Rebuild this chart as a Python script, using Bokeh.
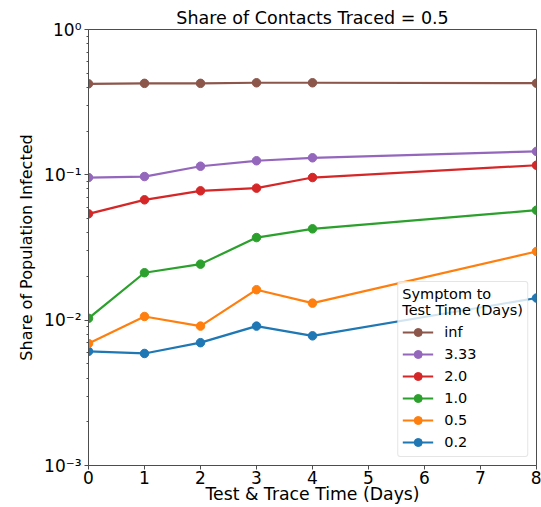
from bokeh.plotting import figure
from bokeh.models import Legend, LegendItem, FixedTicker, CustomJSTickFormatter, Range1d
from bokeh.embed import file_html
from bokeh.resources import INLINE

# ---- data ----
test_trace_days = [0, 1, 2, 3, 4, 8]
series_names = ["0.2", "0.5", "1.0", "2.0", "3.33", "inf"]
vals_0_2 = [0.0061, 0.0059, 0.0070, 0.0091, 0.0078, 0.0142]
vals_0_5 = [0.0069, 0.0106, 0.0091, 0.0162, 0.0131, 0.0297]
vals_1_0 = [0.0103, 0.0212, 0.0243, 0.0370, 0.0425, 0.0571]
vals_2_0 = [0.0539, 0.0673, 0.0776, 0.0810, 0.0958, 0.1164]
vals_3_33 = [0.0958, 0.0973, 0.1146, 0.1250, 0.1310, 0.1450]
vals_inf = [0.423, 0.426, 0.426, 0.430, 0.430, 0.427]
series_values = [vals_0_2, vals_0_5, vals_1_0, vals_2_0, vals_3_33, vals_inf]
colors = ["#1f77b4", "#ff7f0e", "#2ca02c", "#d62728", "#9467bd", "#8c564b"]
x_ticks = [0, 1, 2, 3, 4, 5, 6, 7, 8]
y_ticks = [0.001, 0.01, 0.1, 1.0]
y_minor = [k * d for d in (0.001, 0.01, 0.1) for k in range(2, 10)]

FONT = "DejaVu Sans"
SPINE = "#4d4d4d"

p = figure(width=541, height=507, y_axis_type="log",
           x_range=Range1d(0, 8), y_range=Range1d(0.001, 1),
           output_backend="svg", toolbar_location=None,
           min_border_left=88, min_border_right=5,
           min_border_top=29, min_border_bottom=42)

p.title.text = "Share of Contacts Traced = 0.5"
p.title.align = "center"
p.title.text_font = FONT
p.title.text_font_size = "17.5px"
p.title.text_font_style = "normal"
p.title.text_color = "#000000"
p.title.standoff = 4

p.xgrid.visible = False
p.ygrid.visible = False
p.outline_line_color = SPINE
p.outline_line_width = 1

p.xaxis.ticker = FixedTicker(ticks=x_ticks)
p.yaxis.ticker = FixedTicker(ticks=y_ticks, minor_ticks=y_minor)
p.yaxis.formatter = CustomJSTickFormatter(code="""
const e = Math.round(Math.log10(tick));
const sup = {'0':'\u2070','1':'\u00b9','2':'\u00b2','3':'\u00b3','-':'\u207b'};
return '10' + String(e).split('').map(c => sup[c]).join('');
""")

for ax in (p.xaxis, p.yaxis):
    ax.axis_line_color = SPINE
    ax.major_tick_line_color = SPINE
    ax.minor_tick_line_color = SPINE
    ax.major_tick_in = 0
    ax.major_tick_out = 4
    ax.minor_tick_in = 0
    ax.minor_tick_out = 2
    ax.major_label_text_font = FONT
    ax.major_label_text_font_size = "17px"
    ax.major_label_text_color = "#000000"
    ax.axis_label_text_font = FONT
    ax.axis_label_text_font_style = "normal"
    ax.axis_label_text_color = "#000000"
    ax.major_label_standoff = 3
p.xaxis.minor_tick_line_color = None
p.xaxis.axis_label = "Test & Trace Time (Days)"
p.yaxis.axis_label = "Share of Population Infected"
p.xaxis.axis_label_text_font_size = "17.3px"
p.yaxis.axis_label_text_font_size = "16px"
p.xaxis.major_label_standoff = 1
p.xaxis.axis_label_standoff = -3
p.yaxis.axis_label_standoff = 5

items = []
for name, vals, col in zip(series_names, series_values, colors):
    r1 = p.line(test_trace_days, vals, line_color=col, line_width=2.2)
    r2 = p.scatter(test_trace_days, vals, marker="circle", size=8.5,
                   fill_color=col, line_color=col)
    items.append(LegendItem(label=name, renderers=[r1, r2]))

legend = Legend(items=list(reversed(items)), location="bottom_right")
legend.title = "Symptom to\nTest Time (Days)"
legend.title_text_font = FONT
legend.title_text_font_size = "14.5px"
legend.title_text_font_style = "normal"
legend.title_text_color = "#000000"
legend.title_standoff = 4
legend.label_text_font = FONT
legend.label_text_font_size = "14.5px"
legend.label_text_color = "#000000"
legend.glyph_width = 31
legend.glyph_height = 20
legend.label_height = 20
legend.label_standoff = 11
legend.spacing = 2
legend.padding = 4
legend.margin = 8
legend.border_line_color = "#cccccc"
legend.border_line_width = 1
legend.background_fill_alpha = 0.8
legend.border_radius = 3
p.add_layout(legend)

open("out.html", "w").write(file_html(p, INLINE))
